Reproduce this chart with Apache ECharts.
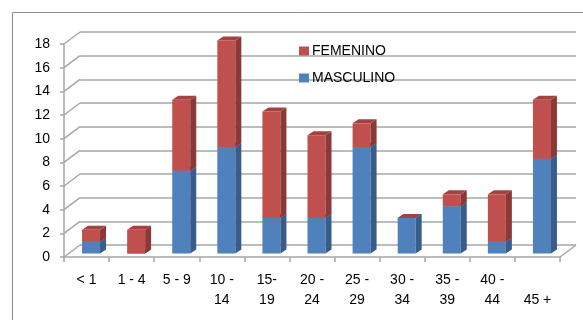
<!DOCTYPE html>
<html><head><meta charset="utf-8">
<script src="https://cdn.jsdelivr.net/npm/echarts@6/dist/echarts.min.js"></script>
<style>html,body{margin:0;padding:0;background:#fff}#c{width:583px;height:320px}</style>
</head><body><div id="c"></div>
<script>
const categories = ["< 1", "1 - 4", "5 - 9", "10 -\n14", "15-\n19", "20 -\n24", "25 -\n29", "30 -\n34", "35 -\n39", "40 -\n44", "\n45 +"];
const masculino = [1, 0, 7, 9, 3, 3, 9, 3, 4, 1, 8];
const femenino  = [1, 2, 6, 9, 9, 7, 2, 0, 1, 4, 5];
const yTicks = [0, 2, 4, 6, 8, 10, 12, 14, 16, 18];

const FONT = 'Liberation Sans';
const GRID_COLOR = '#A6A6A6';
const BAR_W = 18, BAR_OFF = -4.5, BAR_DY = -3.5, DEP_X = 6, DEP_Y = -4;
const WALL_DX = 16, WALL_DY = -12;

const colors = {
  MASCULINO: {front: '#4F81BD', side: '#385D8A', top: '#426EA3'},
  FEMENINO:  {front: '#C0504D', side: '#8C3836', top: '#A3423F'}
};

function barItem(name) {
  return function (params, api) {
    const c = api.value(0), b = api.value(1), t = api.value(2);
    const pb = api.coord([c, b]);
    const pt = api.coord([c, t]);
    const x = pb[0] + BAR_OFF;
    const yb = pb[1] + BAR_DY, yt = pt[1] + BAR_DY;
    const col = colors[name];
    return {
      type: 'group',
      children: [
        {type: 'rect', shape: {x: x, y: yt, width: BAR_W, height: yb - yt}, style: {fill: col.front}},
        {type: 'polygon', shape: {points: [[x + BAR_W, yt], [x + BAR_W + DEP_X, yt + DEP_Y], [x + BAR_W + DEP_X, yb + DEP_Y], [x + BAR_W, yb]]}, style: {fill: col.side}},
        {type: 'polygon', shape: {points: [[x, yt], [x + BAR_W, yt], [x + BAR_W + DEP_X, yt + DEP_Y], [x + DEP_X, yt + DEP_Y]]}, style: {fill: col.top}}
      ]
    };
  };
}

const mData = masculino.map((v, i) => [i, 0, v]);
const fData = femenino.map((v, i) => [i, masculino[i], masculino[i] + v]);

const chart = echarts.init(document.getElementById('c'), null, {renderer: 'canvas'});
chart.setOption({
  animation: false,
  textStyle: {fontFamily: FONT},
  graphic: [{type: 'rect', shape: {x: 12.5, y: 12.5, width: 620, height: 400}, style: {fill: 'none', stroke: '#8C8C8C', lineWidth: 1}, z: -10}],
  legend: {
    orient: 'vertical', left: 299, top: 44, padding: 0,
    itemWidth: 10, itemHeight: 9, itemGap: 13, icon: 'rect',
    data: ['FEMENINO', 'MASCULINO'],
    textStyle: {fontFamily: FONT, fontSize: 14, color: '#000', padding: [0, 0, 0, -2]}
  },
  grid: [
    {left: 64, right: 23, top: 44, bottom: 63},
    {left: 80, right: 7, top: 32, bottom: 75}
  ],
  xAxis: [
    {type: 'category', gridIndex: 0, data: categories, boundaryGap: true,
     axisLine: {lineStyle: {color: GRID_COLOR, width: 1.5}},
     axisTick: {show: true, length: 5, lineStyle: {color: GRID_COLOR, width: 1.5}},
     axisLabel: {interval: 0, margin: 13, fontSize: 14, lineHeight: 20, color: '#000', fontFamily: FONT},
     splitLine: {show: false}},
    {type: 'value', gridIndex: 1, min: 0, max: 1, show: false}
  ],
  yAxis: [
    {type: 'value', gridIndex: 0, min: 0, max: 18, interval: 2,
     axisLine: {show: true, lineStyle: {color: GRID_COLOR, width: 1.5}},
     axisTick: {show: true, length: 4, lineStyle: {color: GRID_COLOR, width: 1.5}},
     axisLabel: {margin: 14, fontSize: 14, color: '#000', fontFamily: FONT},
     splitLine: {show: false}},
    {type: 'value', gridIndex: 1, min: 0, max: 18, interval: 2,
     axisLine: {show: false}, axisTick: {show: false}, axisLabel: {show: false},
     splitLine: {show: true, lineStyle: {color: GRID_COLOR, width: 1.5}}}
  ],
  series: [
    {type: 'custom', name: 'walls', xAxisIndex: 0, yAxisIndex: 0, data: yTicks.map(v => [0, v]), silent: true, z: 1,
     renderItem: function (params, api) {
       const v = api.value(1);
       const y = api.coord([0, v])[1];
       const cs = params.coordSys;
       const x0 = cs.x;
       const children = [{type: 'line', shape: {x1: x0, y1: y, x2: x0 + WALL_DX, y2: y + WALL_DY}, style: {stroke: GRID_COLOR, lineWidth: 1.5}}];
       if (v === 0) {
         children.push({type: 'line', shape: {x1: x0 + cs.width, y1: y, x2: x0 + cs.width + WALL_DX, y2: y + WALL_DY}, style: {stroke: GRID_COLOR, lineWidth: 1.5}});
       }
       return {type: 'group', children: children};
     }},
    {type: 'custom', name: 'MASCULINO', xAxisIndex: 0, yAxisIndex: 0, data: mData, z: 3,
     itemStyle: {color: colors.MASCULINO.front}, renderItem: barItem('MASCULINO')},
    {type: 'custom', name: 'FEMENINO', xAxisIndex: 0, yAxisIndex: 0, data: fData, z: 4,
     itemStyle: {color: colors.FEMENINO.front}, renderItem: barItem('FEMENINO')}
  ]
});
</script></body></html>
